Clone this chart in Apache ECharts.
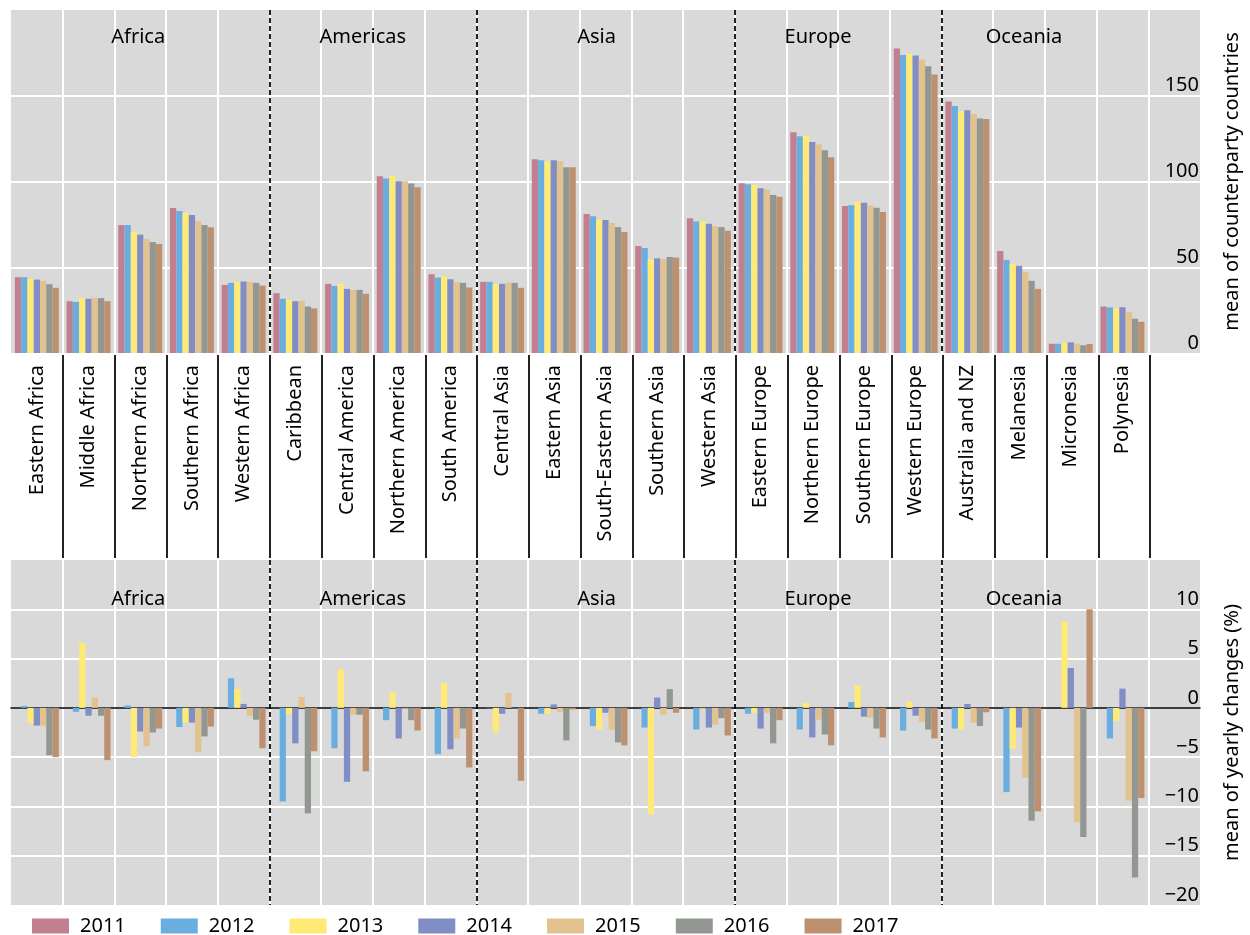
<!DOCTYPE html>
<html>
<head>
<meta charset="utf-8">
<script src="https://cdn.jsdelivr.net/npm/echarts@6/dist/echarts.min.js"></script>
<style>
html,body{margin:0;padding:0;background:#fff;}
#chart{width:1250px;height:935px;}
</style>
</head>
<body>
<div id="chart"></div>
<script>
var regions = ['Eastern Africa','Middle Africa','Northern Africa','Southern Africa','Western Africa',
    'Caribbean','Central America','Northern America','South America',
    'Central Asia','Eastern Asia','South-Eastern Asia','Southern Asia','Western Asia',
    'Eastern Europe','Northern Europe','Southern Europe','Western Europe',
    'Australia and NZ','Melanesia','Micronesia','Polynesia',''];
var continents = ['Africa','Americas','Asia','Europe','Oceania'];
var continent_first = ['Eastern Africa','Caribbean','Central Asia','Eastern Europe','Australia and NZ'];
var continent_last = ['Western Africa','South America','Western Asia','Western Europe','Polynesia'];
var continent_shift = [-2, -10, -9, -20, -21];
var continent_breaks = [5, 9, 14, 18];
var years = ['2011','2012','2013','2014','2015','2016','2017'];
var colors = ['#c27f8f','#6aaee0','#ffea75','#818ec6','#e2c28e','#929891','#bd9170'];

// mean of counterparty countries, one row per region, 2011..2017
var counterparty = [
    [44.2,44.2,43.2,42.8,42.1,40.1,38.0],
    [30.2,29.8,32.2,31.6,32.2,32.0,30.2],
    [74.6,74.6,70.7,69.0,66.5,64.7,63.6],
    [84.5,82.8,81.6,80.4,76.9,74.6,73.3],
    [39.7,40.9,41.5,41.7,41.5,40.9,39.3],
    [34.9,31.6,31.2,30.2,30.4,27.1,26.0],
    [40.3,39.1,40.3,37.4,36.8,36.8,34.5],
    [103.1,101.7,103.3,100.2,100.2,98.8,96.7],
    [45.9,44.0,44.8,43.0,41.5,40.9,38.2],
    [41.5,41.5,40.3,40.3,40.9,40.9,38.0],
    [113.0,112.4,111.8,112.4,111.8,108.3,108.3],
    [81.0,79.8,77.9,77.5,76.0,73.4,70.5],
    [62.4,61.2,54.5,55.2,54.8,56.0,55.6],
    [78.5,76.7,76.7,75.4,74.0,73.4,71.3],
    [99.0,98.4,97.9,96.1,95.3,92.2,91.1],
    [128.7,126.4,126.7,123.1,121.7,118.2,114.1],
    [85.7,86.2,88.2,87.6,86.2,84.7,82.2],
    [177.5,173.8,174.6,173.4,171.1,167.2,162.4],
    [146.7,144.0,140.9,141.5,139.3,136.8,136.4],
    [59.5,54.3,52.1,50.8,47.3,42.1,37.4],
    [5.4,5.4,6.0,6.2,5.4,4.5,5.2],
    [27.1,26.6,26.2,26.7,24.0,20.0,18.2]
];

// mean of yearly changes (%), one row per region, 2011..2017
var changes = [
    [0,0.2,-1.55,-1.8,-1.8,-4.8,-5.0],
    [0,-0.4,6.6,-0.8,1.05,-0.8,-5.3],
    [0,0.24,-5.0,-2.4,-3.9,-2.5,-2.1],
    [0,-1.95,-1.5,-1.5,-4.5,-2.9,-1.9],
    [0,3.0,1.9,0.4,-0.8,-1.2,-4.1],
    [0,-9.5,-0.65,-3.6,1.1,-10.7,-4.4],
    [0,-4.1,3.9,-7.5,-0.7,-0.7,-6.45],
    [0,-1.25,1.6,-3.1,-0.1,-1.25,-2.3],
    [0,-4.7,2.5,-4.2,-3.1,-2.1,-6.05],
    [0,-0.05,-2.5,-0.6,1.5,-0.05,-7.4],
    [0,-0.6,-0.6,0.35,-0.4,-3.3,-0.15],
    [0,-1.85,-2.2,-0.5,-2.2,-3.5,-3.8],
    [0,-2.0,-10.8,1.05,-0.7,1.9,-0.5],
    [0,-2.2,-0.1,-2.0,-1.7,-1.05,-2.8],
    [0,-0.6,-0.5,-2.1,-0.5,-3.6,-1.25],
    [0,-2.2,0.5,-3.0,-1.2,-2.7,-3.8],
    [0,0.6,2.3,-0.9,-1.0,-2.1,-3.0],
    [0,-2.3,0.6,-0.8,-1.45,-2.2,-3.1],
    [0,-2.1,-2.2,0.4,-1.5,-1.85,-0.45],
    [0,-8.55,-4.15,-2.0,-7.1,-11.45,-10.5],
    [0,0,8.75,4.05,-11.6,-13.1,10.0],
    [0,-3.1,-1.3,1.95,-9.4,-17.2,-9.15]
];

var font = 'Noto Sans';
var chart = echarts.init(document.getElementById('chart'));

function minus(v){ return v < 0 ? '\u2212' + (-v) : '' + v; }
function column(rows, j){ return rows.map(function(r){ return r[j]; }); }

var continentArea = continents.map(function(c, i){
    return [{name: c, xAxis: continent_first[i], label: {offset: [continent_shift[i], 0]}},
            {xAxis: continent_last[i]}];
});

function labelSeries(xi, yi, dist){
    return {
        type: 'line', xAxisIndex: xi, yAxisIndex: yi, silent: true,
        data: regions.map(function(){ return null; }), symbol: 'none',
        markArea: {
            silent: true, itemStyle: {color: 'rgba(0,0,0,0)'},
            label: {position: 'insideTop', distance: dist, color: '#000', fontSize: 20, fontFamily: font},
            data: continentArea
        }
    };
}

function catAxis(grid, extra){
    var a = {
        type: 'category', gridIndex: grid, data: regions,
        axisLine: {show: false}, axisTick: {show: false}, axisLabel: {show: false},
        splitLine: {show: false}
    };
    for (var k in extra) a[k] = extra[k];
    return a;
}

var whiteSplit = {show: true, interval: 0, showMinLine: false, showMaxLine: false,
    lineStyle: {color: '#ffffff', width: 2}};
var dashedSplit = {show: true, showMaxLine: false,
    interval: function(idx){ return continent_breaks.indexOf(idx) >= 0; },
    lineStyle: {color: '#222', width: 2, type: [5, 3]}};

var series = [];
years.forEach(function(y, j){
    series.push({
        name: y, type: 'bar', xAxisIndex: 0, yAxisIndex: 0,
        data: column(counterparty, j), itemStyle: {color: colors[j]},
        barGap: '0%', barCategoryGap: '15%'
    });
    series.push({
        name: y, type: 'bar', xAxisIndex: 3, yAxisIndex: 2,
        data: column(changes, j), itemStyle: {color: colors[j]},
        barGap: '0%', barCategoryGap: '15%'
    });
});
series.push(labelSeries(1, 0, 17));
series.push(labelSeries(4, 2, 29));

chart.setOption({
    animation: false,
    textStyle: {fontFamily: font},
    grid: [
        {left: 11, right: 48, top: 10, height: 343, show: true, backgroundColor: '#d9d9d9', borderWidth: 0},
        {left: 11, right: 48, top: 355, height: 203},
        {left: 11, right: 48, top: 560, height: 345, show: true, backgroundColor: '#d9d9d9', borderWidth: 0}
    ],
    legend: {
        data: years, left: 32, top: 916, padding: 0, icon: 'rect',
        itemWidth: 37, itemHeight: 15, itemGap: 35,
        textStyle: {fontSize: 20, color: '#000', fontFamily: font, padding: [0, 0, 0, 6]}
    },
    xAxis: [
        catAxis(0, {axisLabel: {show: true, interval: 0, rotate: 90, margin: 12,
            fontSize: 20, color: '#000', fontFamily: font}, splitLine: whiteSplit}),
        catAxis(0, {splitLine: dashedSplit}),
        catAxis(1, {splitLine: {show: true, showMaxLine: false,
            interval: function(idx){ return idx >= 1; },
            lineStyle: {color: '#222', width: 2}}}),
        catAxis(2, {axisLine: {show: true, onZero: true, lineStyle: {color: '#000', width: 1.5}},
            splitLine: whiteSplit}),
        catAxis(2, {splitLine: dashedSplit})
    ],
    yAxis: [
        {
            type: 'value', gridIndex: 0, position: 'right', min: 0, max: 200, interval: 50,
            name: 'mean of counterparty countries', nameLocation: 'middle', nameGap: 22, nameRotate: 90,
            nameTextStyle: {fontSize: 20, color: '#000', fontFamily: font},
            axisLine: {show: false}, axisTick: {show: false},
            axisLabel: {inside: true, showMaxLabel: false, margin: 1, verticalAlign: 'bottom',
                fontSize: 20, color: '#000', fontFamily: font, formatter: minus},
            splitLine: {show: true, showMinLine: false, showMaxLine: false, lineStyle: {color: '#ffffff', width: 2}}
        },
        {type: 'value', gridIndex: 1, show: false, splitLine: {show: false}},
        {
            type: 'value', gridIndex: 2, position: 'right', min: -20, max: 15, interval: 5,
            name: 'mean of yearly changes (%)', nameLocation: 'middle', nameGap: 22, nameRotate: 90,
            nameTextStyle: {fontSize: 20, color: '#000', fontFamily: font},
            axisLine: {show: false}, axisTick: {show: false},
            axisLabel: {inside: true, showMaxLabel: false, margin: 1, verticalAlign: 'bottom',
                fontSize: 20, color: '#000', fontFamily: font, formatter: minus},
            splitLine: {show: true, showMinLine: false, showMaxLine: false, lineStyle: {color: '#ffffff', width: 2}}
        }
    ],
    series: series
});
</script>
</body>
</html>
